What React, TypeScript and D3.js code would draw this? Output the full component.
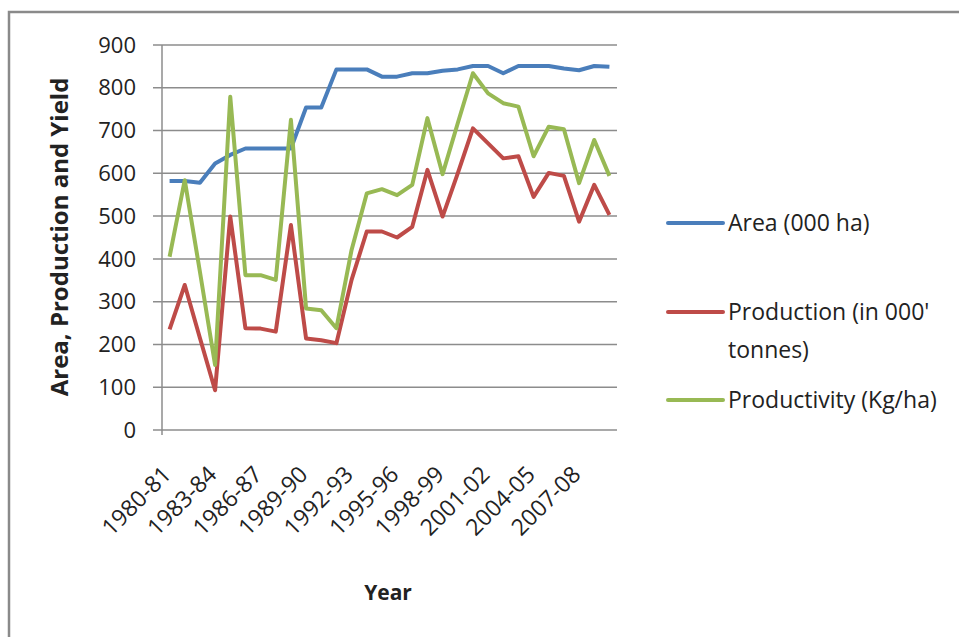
import React from "react";
import * as d3 from "d3";

const years = [
  "1980-81","1981-82","1982-83","1983-84","1984-85","1985-86","1986-87","1987-88","1988-89","1989-90",
  "1990-91","1991-92","1992-93","1993-94","1994-95","1995-96","1996-97","1997-98","1998-99","1999-00",
  "2000-01","2001-02","2002-03","2003-04","2004-05","2005-06","2006-07","2007-08","2008-09","2009-10",
];
const area = [582, 582, 578, 623, 643, 658, 658, 658, 658, 754, 754, 843, 843, 843, 826, 826, 834, 834, 840, 843, 851, 851, 834, 851, 851, 851, 845, 841, 851, 849];
const production = [235, 339, 215, 93, 499, 238, 237, 230, 479, 214, 210, 203, 351, 464, 464, 450, 475, 608, 499, 600, 705, 670, 635, 640, 545, 601, 594, 487, 573, 503];
const productivity = [405, 584, 370, 152, 779, 362, 362, 351, 725, 284, 280, 238, 421, 553, 563, 549, 573, 729, 598, 717, 834, 787, 764, 756, 640, 709, 703, 577, 678, 594];
const yTicks = [0, 100, 200, 300, 400, 500, 600, 700, 800, 900];
const seriesNames = ["Area (000 ha)", "Production (in 000' tonnes)", "Productivity (Kg/ha)"];
const colors = ["#4A7EBB", "#BE4B48", "#98B954"];

const FONT = "'Open Sans', sans-serif";

export default function App() {
  const W = 959, H = 637;
  const left = 162, right = 617, top = 45, bottom = 430;
  const x = d3.scaleBand<string>().domain(years).range([left, right]);
  const y = d3.scaleLinear().domain([0, 900]).range([bottom, top]);
  const cx = (i: number) => (x(years[i]) as number) + x.bandwidth() / 2;
  const line = d3.line<number>().x((_, i) => cx(i)).y((v) => y(v));
  const series = [area, production, productivity];
  const legendY = [223, 312, 400];

  return (
    <svg width={W} height={H} style={{ position: "absolute", left: 0, top: 0 }}>
      <rect x={0} y={0} width={W} height={H} fill="#fff" />
      <path d={`M9,${H + 5} L9,12 L${W + 5},12`} fill="none" stroke="#8a8a8a" strokeWidth={2.5} />
      {yTicks.map((t) => (
        <g key={t}>
          <line x1={left - 9} x2={right} y1={y(t)} y2={y(t)} stroke="#8c8c8c" strokeWidth={1.5} />
          <text x={136} y={y(t)} dy="0.35em" textAnchor="end" fontFamily={FONT} fontSize={22} fill="#222">{t}</text>
        </g>
      ))}
      <line x1={left} x2={left} y1={top} y2={bottom + 5} stroke="#8c8c8c" strokeWidth={1.5} />
      {years.map((yr, i) => i % 3 === 0 ? (
        <text key={yr} transform={`translate(${cx(i) + 3},${476}) rotate(-45)`} textAnchor="end" fontFamily={FONT} fontSize={23} fill="#222">{yr}</text>
      ) : null)}
      {series.map((s, k) => (
        <path key={k} d={line(s) as string} fill="none" stroke={colors[k]} strokeWidth={4} strokeLinejoin="round" />
      ))}
      <text transform={`translate(68,237) rotate(-90)`} textAnchor="middle" fontFamily={FONT} fontWeight="bold" fontSize={24} fill="#222">Area, Production and Yield</text>
      <text x={388} y={600} textAnchor="middle" fontFamily={FONT} fontWeight="bold" fontSize={21} fill="#222">Year</text>
      {seriesNames.map((n, k) => (
        <g key={n}>
          <line x1={668} x2={723} y1={legendY[k]} y2={legendY[k]} stroke={colors[k]} strokeWidth={4} strokeLinecap="round" />
          {k === 1 ? (
            <text x={728} y={legendY[k]} dy="0.35em" fontFamily={FONT} fontSize={23} fill="#222">
              <tspan x={728}>Production (in 000'</tspan>
              <tspan x={728} dy={38}>tonnes)</tspan>
            </text>
          ) : (
            <text x={728} y={legendY[k]} dy="0.35em" fontFamily={FONT} fontSize={23} fill="#222">{n}</text>
          )}
        </g>
      ))}
    </svg>
  );
}
